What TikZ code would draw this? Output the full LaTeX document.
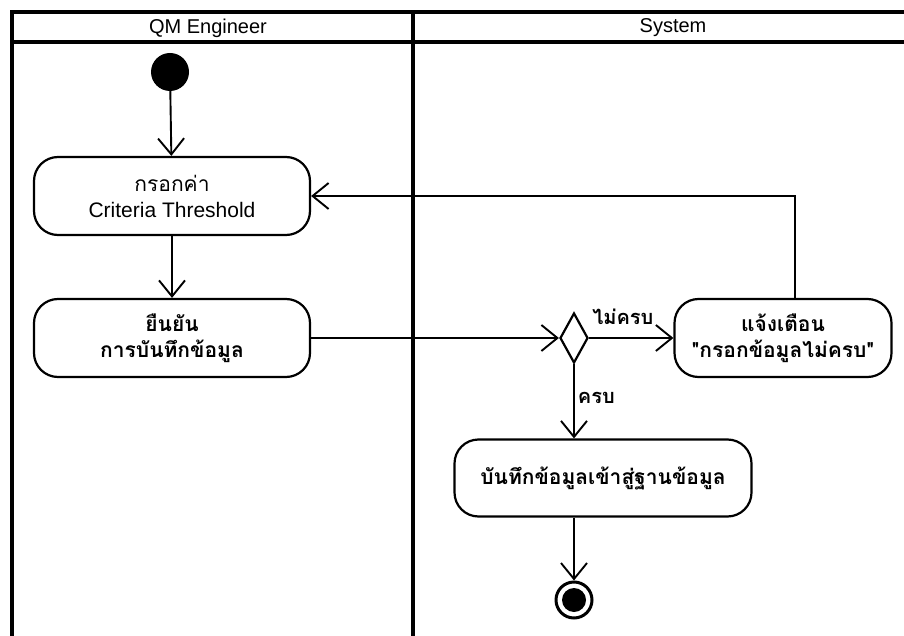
\documentclass[tikz,border=0pt]{standalone}
\usepackage{fontspec}
\setmainfont{Liberation Sans}
\newfontfamily\thaifont[Script=Thai]{Loma}
\usetikzlibrary{arrows.meta,shapes.geometric}

\tikzset{
  lane/.style={line width=4.2pt},
  action/.style={draw, line width=2.2pt, rounded corners=24pt, minimum height=78pt,
    align=center, inner sep=2pt, font=\thaifont\bfseries\fontsize{21}{26}\selectfont},
  flow/.style={line width=1.9pt, -{Straight Barb[length=16pt,width=26pt,line width=1.9pt]}},
  guard/.style={font=\thaifont\bfseries\fontsize{20}{22}\selectfont, inner sep=3pt},
}

\begin{document}
\begin{tikzpicture}[x=1pt,y=-1pt]
\useasboundingbox (0,0) rectangle (904,636);

% Swimlanes
\draw[lane] (12,636) -- (12,12) -- (904,12);
\draw[lane] (12,42) -- (904,42);
\draw[lane] (413,12) -- (413,636);
\node[font=\fontsize{20}{22}\selectfont] (laneQM) at (208,28) {QM Engineer};
\node[font=\fontsize{20}{22}\selectfont] (laneSys) at (673,28) {System};

% QM Engineer lane
\node[circle, fill, minimum size=38pt, inner sep=0pt] (start) at (170,72) {};
\node[action, minimum width=276pt, font=\thaifont\fontsize{21}{26}\selectfont] (fill) at (172,196)
  {กรอกค่า\\{\rmfamily Criteria Threshold}};
\node[action, minimum width=276pt] (confirm) at (172,338) {ยืนยัน\\การบันทึกข้อมูล};

% System lane
\node[diamond, draw, line width=2.2pt, minimum width=28pt, minimum height=50pt, inner sep=0pt] (check) at (574,338) {};
\node[action, minimum width=217pt] (warn) at (783,338) {แจ้งเตือน\\"กรอกข้อมูลไม่ครบ"};
\node[action, minimum width=297pt, minimum height=77pt] (save) at (603,478) {บันทึกข้อมูลเข้าสู่ฐานข้อมูล};
\node[circle, draw, line width=3pt, minimum size=36pt, inner sep=0pt,
  path picture={\fill (path picture bounding box.center) circle (12pt);}] (stop) at (574,600) {};

% Flows
\draw[flow] (start) -- (fill);
\draw[flow] (fill) -- (confirm);
\draw[flow] (confirm) -- (check);
\draw[flow] (check) -- node[guard, above=9pt, pos=0.4] {ไม่ครบ} (warn);
\draw[flow] ([xshift=12pt]warn.north) |- (fill.east);
\draw[flow] (check.south) -- node[guard, right, pos=0.45] {ครบ} (check.south |- save.north);
\draw[flow] (save.south -| check) -- (stop);

\end{tikzpicture}
\end{document}
